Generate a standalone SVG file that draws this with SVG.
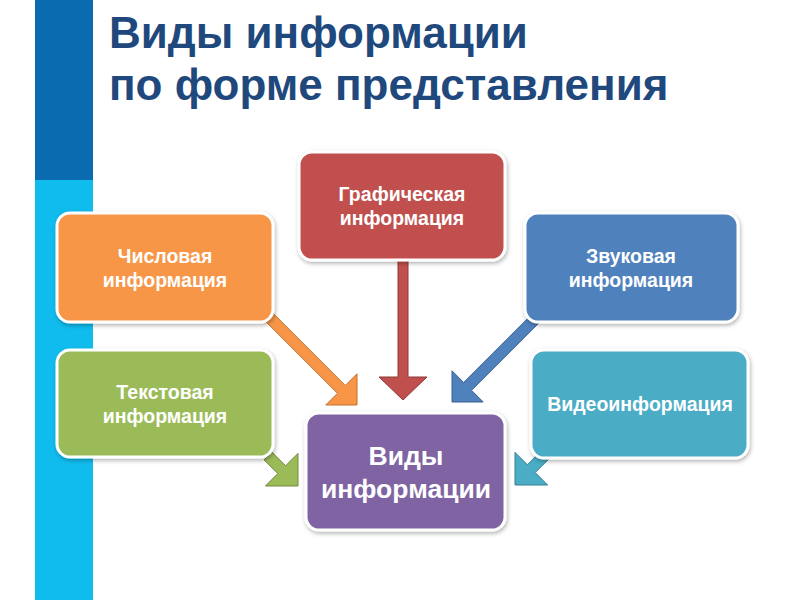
<svg xmlns="http://www.w3.org/2000/svg" width="800" height="600" viewBox="0 0 800 600">
<defs>
<filter id="sh" x="-10%" y="-10%" width="125%" height="130%">
<feDropShadow dx="1" dy="2" stdDeviation="2" flood-color="#000" flood-opacity="0.3"/>
</filter>
<style>
.box{stroke:#fff;stroke-width:3;filter:url(#sh)}
.t{font-family:"Liberation Sans",Arial,sans-serif;font-weight:bold;fill:#fff;text-anchor:middle}
.s{font-size:19.5px}
.title{font-family:"Liberation Sans",Arial,sans-serif;font-weight:bold;font-size:44px;fill:#1f497d}
.arr{stroke-width:1;stroke-linejoin:miter}
</style>
</defs>
<rect width="800" height="600" fill="#fff"/>
<rect x="35" y="0" width="58" height="180" fill="#0b6bb1"/>
<rect x="35" y="180" width="58" height="420" fill="#10bcee"/>
<g id="title">
<text class="title" x="109" y="48">Виды информации</text>
<text class="title" x="109" y="100">по форме представления</text>
</g>
<g id="connectors">
<polygon class="arr" fill="#f79646" stroke="#c46f2d" points="273.9,314.1 345.3,385.5 357,373.8 357,405 325.8,405 337.5,393.3 266.1,321.9"/>
<polygon class="arr" fill="#c0504d" stroke="#8e3a38" points="398,258 408,258 408,377 427,377 403,400 379,377 398,377"/>
<polygon class="arr" fill="#4f81bd" stroke="#38618f" points="539.9,321.9 471.5,390.3 483.2,402 452,402 452,370.8 463.7,382.5 532.1,314.1"/>
<polygon class="arr" fill="#9bbb59" stroke="#71893e" points="271.9,452.1 285.6,465.8 298,453.4 298,486 265.4,486 277.8,473.6 264.1,459.9"/>
<polygon class="arr" fill="#4bacc6" stroke="#337f94" points="548.9,458.9 535.2,472.6 547.6,485 515,485 515,452.4 527.4,464.8 541.1,451.1"/>
</g>
<g id="n-chislovaya">
<rect class="box" x="57" y="213" width="216" height="109" rx="13" fill="#f79646"/>
<text class="t s" x="165" y="263">Числовая</text>
<text class="t s" x="165" y="287">информация</text>
</g>
<g id="n-tekstovaya">
<rect class="box" x="57" y="350" width="216" height="107" rx="13" fill="#9bbb59"/>
<text class="t s" x="165" y="399">Текстовая</text>
<text class="t s" x="165" y="423">информация</text>
</g>
<g id="n-graficheskaya">
<rect class="box" x="299" y="152" width="206" height="108" rx="13" fill="#c0504d"/>
<text class="t s" x="402" y="201">Графическая</text>
<text class="t s" x="402" y="225">информация</text>
</g>
<g id="n-zvukovaya">
<rect class="box" x="525" y="213" width="213" height="109" rx="13" fill="#4f81bd"/>
<text class="t s" x="631" y="263">Звуковая</text>
<text class="t s" x="631" y="287">информация</text>
</g>
<g id="n-video">
<rect class="box" x="531" y="350" width="217" height="108" rx="13" fill="#4bacc6"/>
<text class="t s" x="640" y="411">Видеоинформация</text>
</g>
<g id="n-center">
<rect class="box" x="306" y="413" width="199" height="117" rx="13" fill="#8064a2"/>
<text class="t" x="406" y="465" font-size="26.5">Виды</text>
<text class="t" x="406" y="498" font-size="26.5">информации</text>
</g>
</svg>
